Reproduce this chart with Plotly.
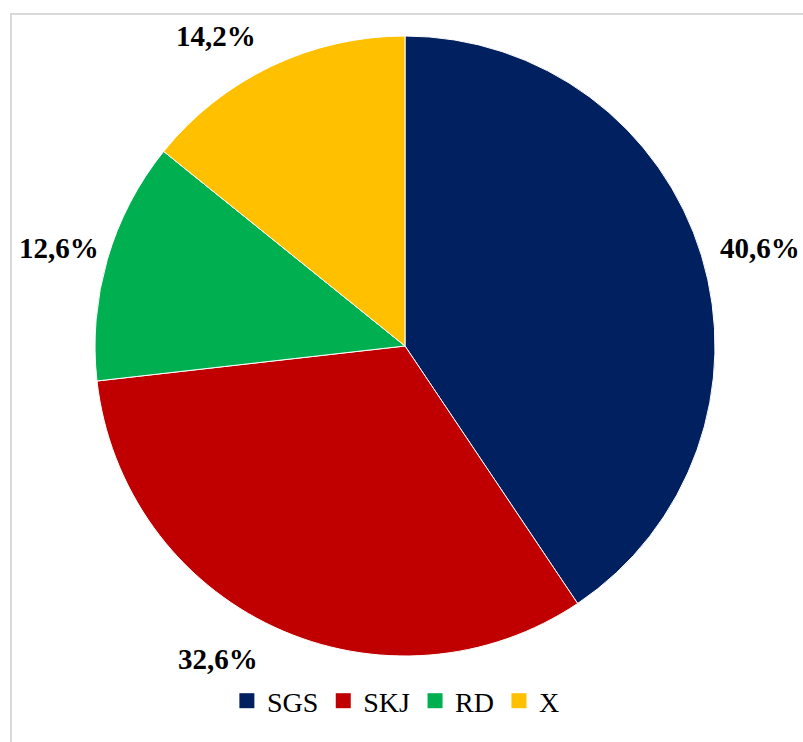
import math
import plotly.graph_objects as go

categories = ["SGS", "SKJ", "RD", "X"]
shares = [40.6, 32.6, 12.6, 14.2]
colors = ["#002060", "#C00000", "#00B050", "#FFC000"]
pct_labels = [f"{v:.1f}%".replace(".", ",") for v in shares]

# label placement: angular nudge (deg) from each slice's mid-angle and radius (px)
label_nudge_deg = [1.5, 6.0, -0.4, -5.8]
label_radius = [368, 364, 360, 363]

SERIF = "Liberation Serif, Times New Roman, Times, serif"
W, H = 803, 742
cx, cy, r = 405, 346, 310          # pie centre and radius in pixels

fig = go.Figure()
fig.add_trace(
    go.Pie(
        labels=categories,
        values=shares,
        sort=False,
        direction="clockwise",
        rotation=0,
        marker=dict(colors=colors, line=dict(color="white", width=1)),
        textinfo="none",
        hoverinfo="label+percent",
        showlegend=False,
        domain=dict(x=[(cx - r) / W, (cx + r) / W], y=[1 - (cy + r) / H, 1 - (cy - r) / H]),
    )
)

# legend entries with larger square swatches
for name, col in zip(categories, colors):
    fig.add_trace(
        go.Scatter(
            x=[None], y=[None], mode="markers", name=name,
            marker=dict(symbol="square", size=15, color=col),
            hoverinfo="skip",
        )
    )

# percentage labels placed outside each slice
total = sum(shares)
cum = 0.0
annotations = []
for v, txt, dang, rad in zip(shares, pct_labels, label_nudge_deg, label_radius):
    mid = math.radians((cum + v / 2) / total * 360 + dang)
    cum += v
    px = cx + rad * math.sin(mid)
    py = cy - rad * math.cos(mid)
    annotations.append(
        dict(
            x=px / W, y=1 - py / H, xref="paper", yref="paper",
            text=f"<b>{txt}</b>", showarrow=False,
            font=dict(family=SERIF, size=29, color="black"),
            xanchor="center", yanchor="middle",
        )
    )

fig.update_layout(
    width=W, height=H,
    margin=dict(l=0, r=0, t=0, b=0),
    font=dict(family=SERIF, color="black"),
    paper_bgcolor="white",
    plot_bgcolor="white",
    xaxis=dict(visible=False, range=[0, 1]),
    yaxis=dict(visible=False, range=[0, 1]),
    annotations=annotations,
    showlegend=True,
    legend=dict(
        orientation="h", x=0.493, xanchor="center", y=1 - 701 / H, yanchor="middle",
        font=dict(family=SERIF, size=28, color="black"),
        itemsizing="trace", bgcolor="rgba(0,0,0,0)",
    ),
    shapes=[
        dict(type="rect", xref="paper", yref="paper",
             x0=11 / W, x1=1.02, y0=-0.02, y1=1 - 14 / H,
             line=dict(color="#D9D9D9", width=2), fillcolor="rgba(0,0,0,0)", layer="below"),
    ],
)

fig.write_html("out.html")
